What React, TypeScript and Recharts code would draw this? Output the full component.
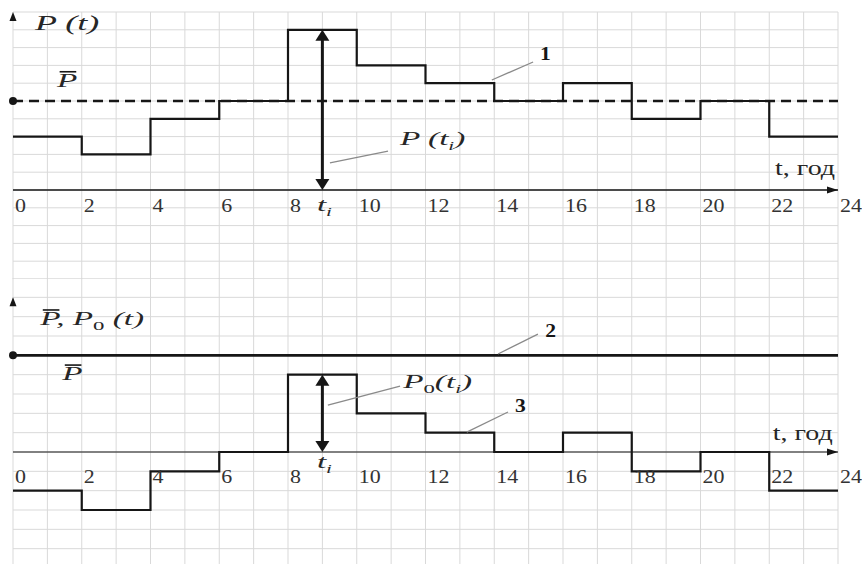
import React from 'react';
import {
  LineChart,
  Line,
  XAxis,
  YAxis,
  CartesianGrid,
  ReferenceLine,
  ReferenceDot,
} from 'recharts';

// години доби (межі ступенів) і значення навантаження на кожному інтервалі
const hours = [0, 2, 4, 6, 8, 10, 12, 14, 16, 18, 20, 22, 24];
const gridHours = [0, 1, 2, 3, 4, 5, 6, 7, 8, 9, 10, 11, 12, 13, 14, 15, 16, 17, 18, 19, 20, 21, 22, 23, 24];
const hourLabels = ['0', '2', '4', '6', '8', '10', '12', '14', '16', '18', '20', '22', '24'];
const loadP = [3, 2, 4, 5, 9, 7, 6, 5, 6, 4, 5, 3];
const loadP0 = [-2, -3, -1, 0, 4, 2, 1, 0, 1, -1, 0, -2];
const pMean = 5;
const ti = 9;
const topTicks = [-5, -4, -3, -2, -1, 0, 1, 2, 3, 4, 5, 6, 7, 8, 9, 10];
const bottomTicks = [-6, -5, -4, -3, -2, -1, 0, 1, 2, 3, 4, 5, 6, 7, 8, 9];

const topData = hours.map((t, i) => ({ t, p: loadP[Math.min(i, loadP.length - 1)] }));
const bottomData = hours.map((t, i) => ({ t, p: loadP0[Math.min(i, loadP0.length - 1)] }));

const INK = '#161616';
const TEXT = '#262626';
const GRID = '#d9d9d9';
const FONT = "'Liberation Serif', 'DejaVu Serif', serif";
const SX = 1.75;

// текст з горизонтальним розтягом, як на рисунку
const txt = (content: React.ReactNode, opts: any = {}) => (p: any) => (
  <g transform={`translate(${p.cx + (opts.dx || 0)},${p.cy + (opts.dy || 0)}) scale(${opts.sx || SX},1)`}>
    <text
      x={0}
      y={0}
      style={{
        fontFamily: FONT,
        fontSize: opts.size || 19,
        fontStyle: opts.italic ? 'italic' : 'normal',
        fontWeight: opts.weight || 'normal',
      }}
      fill={opts.fill || TEXT}
    >
      {content}
    </text>
    {opts.bar && <line x1={1.5} x2={11} y1={-15} y2={-15} stroke={INK} strokeWidth={1.6} />}
  </g>
);

const tickText = (label: string, dy: number) =>
  txt(label, { dx: 2, dy, size: 18, sx: 1.22, fill: '#333' });

const upArrow = (p: any) => (
  <polygon points={`${p.cx},${p.cy} ${p.cx - 3.5},${p.cy + 9} ${p.cx + 3.5},${p.cy + 9}`} fill={INK} />
);
const rightArrow = (p: any) => (
  <polygon points={`${p.cx},${p.cy} ${p.cx - 11},${p.cy - 3.5} ${p.cx - 11},${p.cy + 3.5}`} fill={INK} />
);
const blackDot = (p: any) => <circle cx={p.cx} cy={p.cy} r={4} fill={INK} />;

const doubleArrow = (p: any) => {
  const top = Math.min(p.y1, p.y2);
  const bot = Math.max(p.y1, p.y2);
  const x = p.x1;
  return (
    <g>
      <line x1={x} x2={x} y1={top + 8} y2={bot - 8} stroke={INK} strokeWidth={3} />
      <polygon points={`${x},${top} ${x - 7},${top + 11} ${x + 7},${top + 11}`} fill={INK} />
      <polygon points={`${x},${bot} ${x - 7},${bot - 11} ${x + 7},${bot - 11}`} fill={INK} />
    </g>
  );
};

const leader = (a: [number, number], b: [number, number], key: string) => (
  <ReferenceLine
    key={key}
    segment={[{ x: a[0], y: a[1] }, { x: b[0], y: b[1] }]}
    stroke="#8a8a8a"
    strokeWidth={1.3}
    ifOverflow="visible"
  />
);

const note = (x: number, y: number, shape: any, key: string) => (
  <ReferenceDot key={key} x={x} y={y} r={0} shape={shape} ifOverflow="visible" />
);

const sub = (s: string) => (
  <tspan dy={5} fontSize={12}>
    {s}
  </tspan>
);

const noTick = () => <g />;

const axes = (ticks: number[], domain: [number, number]) => [
  <CartesianGrid key="g" stroke={GRID} strokeWidth={1} />,
  <XAxis
    key="x"
    type="number"
    dataKey="t"
    domain={[0, 24]}
    ticks={gridHours}
    interval={0}
    height={0}
    tick={noTick}
    tickLine={false}
    axisLine={false}
  />,
  <YAxis
    key="y"
    type="number"
    domain={domain}
    ticks={ticks}
    interval={0}
    width={0}
    tick={noTick}
    tickLine={false}
    axisLine={{ stroke: INK, strokeWidth: 1.5 }}
  />,
];

const App = () => {
  return (
    <div
      style={{
        position: 'absolute',
        left: 0,
        top: 0,
        width: 862,
        height: 564,
        overflow: 'hidden',
        background: '#fff',
      }}
    >
      <div style={{ position: 'absolute', left: 0, top: 0 }}>
        <LineChart width={862} height={279} data={topData} margin={{ top: 12, right: 24, bottom: 0, left: 13 }}>
          {axes(topTicks, [-5, 10])}
          <ReferenceLine y={0} stroke={INK} strokeWidth={1.5} />
          <ReferenceLine y={pMean} stroke={INK} strokeWidth={2.4} strokeDasharray="10 6" />
          <Line
            type="stepAfter"
            dataKey="p"
            stroke={INK}
            strokeWidth={2.2}
            dot={false}
            isAnimationActive={false}
          />
          <ReferenceLine segment={[{ x: ti, y: 0 }, { x: ti, y: loadP[4] }]} shape={doubleArrow} />
          {leader([9.22, 1.52], [10.91, 2.19], 'l1')}
          {leader([13.93, 6.18], [15.13, 7.19], 'l2')}
          {note(0, 10, upArrow, 'ya')}
          {note(24, 0, rightArrow, 'xa')}
          {note(0, pMean, blackDot, 'dot')}
          {hourLabels.map((h) => note(Number(h), 0, tickText(h, 22), 'h' + h))}
          {note(0.64, 9.0, txt('P (t)', { italic: true, size: 20, sx: 1.8 }), 'n1')}
          {note(1.28, 5.8, txt('P', { italic: true, bar: true }), 'n2')}
          {note(15.33, 7.3, txt('1', { weight: 'bold', size: 18, sx: 1.2, fill: INK }), 'n3')}
          {note(11.26, 2.53, txt(<>P (t{sub('i')}<tspan dy={-5}>)</tspan></>, { italic: true }), 'n4')}
          {note(8.84, -1.2, txt(<>t{sub('i')}</>, { italic: true }), 'n5')}
          {note(22.17, 0.84, txt('t, год', { size: 20, sx: 1.4 }), 'n6')}
        </LineChart>
      </div>
      <div style={{ position: 'absolute', left: 0, top: 278 }}>
        <LineChart width={862} height={290} data={bottomData} margin={{ top: 0, right: 24, bottom: 0, left: 13 }}>
          {axes(bottomTicks, [-6, 9])}
          <ReferenceLine y={0} stroke={INK} strokeWidth={1.2} />
          <ReferenceLine y={pMean} stroke={INK} strokeWidth={2.6} />
          <Line
            type="stepAfter"
            dataKey="p"
            stroke={INK}
            strokeWidth={2.2}
            dot={false}
            isAnimationActive={false}
          />
          <ReferenceLine segment={[{ x: ti, y: 0 }, { x: ti, y: loadP0[4] }]} shape={doubleArrow} />
          {leader([9.16, 2.43], [11.26, 3.41], 'l1')}
          {leader([14.11, 5.07], [15.27, 6.1], 'l2')}
          {leader([13.2, 1.03], [14.4, 2.07], 'l3')}
          {note(0, 8, upArrow, 'ya')}
          {note(24, 0, rightArrow, 'xa')}
          {note(0, pMean, blackDot, 'dot')}
          {hourLabels.map((h) => note(Number(h), 0, tickText(h, 31), 'h' + h))}
          {note(
            0.79,
            6.57,
            txt(
              <>
                P, P<tspan dy={5} fontSize={13} fontStyle="normal">0</tspan>
                <tspan dy={-5}> (t)</tspan>
              </>,
              { italic: true, bar: true }
            ),
            'n1'
          )}
          {note(1.43, 3.72, txt('P', { italic: true, bar: true }), 'n2')}
          {note(15.48, 5.95, txt('2', { weight: 'bold', size: 18, sx: 1.2, fill: INK }), 'n3')}
          {note(14.6, 2.07, txt('3', { weight: 'bold', size: 18, sx: 1.2, fill: INK }), 'n4')}
          {note(
            11.35,
            3.31,
            txt(
              <>
                P<tspan dy={5} fontSize={13} fontStyle="normal">0</tspan>
                <tspan dy={-5}>(t</tspan>
                {sub('i')}
                <tspan dy={-5}>)</tspan>
              </>,
              { italic: true }
            ),
            'n5'
          )}
          {note(8.84, -0.83, txt(<>t{sub('i')}</>, { italic: true }), 'n6')}
          {note(22.1, 0.62, txt('t, год', { size: 20, sx: 1.4 }), 'n7')}
        </LineChart>
      </div>
    </div>
  );
};

export default App;
